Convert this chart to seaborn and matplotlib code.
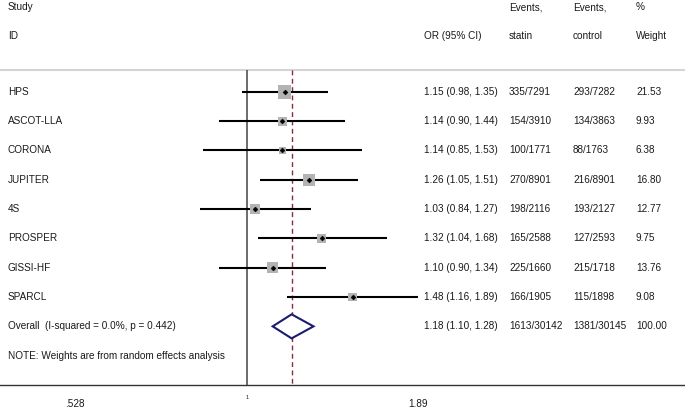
import matplotlib
matplotlib.use("Agg")
import matplotlib.pyplot as plt
import matplotlib.ticker as mticker
import seaborn as sns
import pandas as pd
import numpy as np

# data
studies = ["HPS", "ASCOT-LLA", "CORONA", "JUPITER", "4S", "PROSPER", "GISSI-HF", "SPARCL"]
odds = [1.15, 1.14, 1.14, 1.26, 1.03, 1.32, 1.10, 1.48]
ci_lo = [0.98, 0.90, 0.85, 1.05, 0.84, 1.04, 0.90, 1.16]
ci_hi = [1.35, 1.44, 1.53, 1.51, 1.27, 1.68, 1.34, 1.89]
ev_statin = ["335/7291", "154/3910", "100/1771", "270/8901", "198/2116", "165/2588", "225/1660", "166/1905"]
ev_control = ["293/7282", "134/3863", "88/1763", "216/8901", "193/2127", "127/2593", "215/1718", "115/1898"]
weights = [21.53, 9.93, 6.38, 16.80, 12.77, 9.75, 13.76, 9.08]

pooled = 1.18
pooled_lo = 1.10
pooled_hi = 1.28
pooled_statin = "1613/30142"
pooled_control = "1381/30145"
overall_label = "Overall  (I-squared = 0.0%, p = 0.442)"
note = "NOTE: Weights are from random effects analysis"
xtick_vals = [0.528, 1.89]
xtick_labels = [".528", "1.89"]

df = pd.DataFrame({"study": studies, "or": odds, "lo": ci_lo, "hi": ci_hi,
                   "weight": weights, "row": np.arange(len(studies))})

sns.set_style("white")
plt.rcParams['font.family'] = ['Liberation Sans', 'DejaVu Sans']
fs = 7.2

fig = plt.figure(figsize=(6.85, 4.09), dpi=100)
ax = fig.add_axes([0, 1 - 385 / 409, 1, 385 / 409])
ax.set_xscale("log")
ax.set_xlim(0.3996, 5.085)
ax.set_ylim(10, -3.13)

# header separator and reference lines
ax.axhline(-0.75, color="#d4d4d4", lw=1.5)
ax.vlines(1, -0.75, 10, color="#444444", lw=1.1)
ax.vlines(pooled, -0.75, 10, color="#8b2a3a", lw=1.0, linestyles=(0, (3.5, 2.5)))

# confidence intervals
ax.hlines(df["row"], df["lo"], df["hi"], color="black", lw=1.5, zorder=3)

# weight boxes, area proportional to weight
k = 4.4
sns.scatterplot(data=df, x="or", y="row", size="weight", sizes=(k * min(weights), k * max(weights)),
                size_norm=(min(weights), max(weights)), marker="s", color="#b3b3b3",
                edgecolor="none", legend=False, ax=ax, zorder=4)
# point estimates
sns.scatterplot(data=df, x="or", y="row", marker="D", s=6, color="black",
                edgecolor="black", linewidth=0.4, legend=False, ax=ax, zorder=5)

# pooled diamond
orow = len(studies)
ax.fill([pooled_lo, pooled, pooled_hi, pooled, pooled_lo],
        [orow, orow - 0.41, orow, orow + 0.41, orow],
        facecolor="white", edgecolor="#1c1c6e", lw=1.5, zorder=4)

# text columns
tr = ax.get_yaxis_transform()
col_or, col_st, col_ct, col_wt = 424 / 685, 509 / 685, 573 / 685, 636 / 685
left = 8 / 685
kw = dict(transform=tr, fontsize=fs, va="center", ha="left", color="#1a1a1a")
ax.text(left, -2.88, "Study", **kw)
ax.text(left, -1.9, "ID", **kw)
ax.text(col_or, -1.9, "OR (95% CI)", **kw)
ax.text(col_st, -2.88, "Events,", **kw)
ax.text(col_st, -1.9, "statin", **kw)
ax.text(col_ct, -2.88, "Events,", **kw)
ax.text(col_ct, -1.9, "control", **kw)
ax.text(col_wt, -2.88, "%", **kw)
ax.text(col_wt, -1.9, "Weight", **kw)

for i in range(len(studies)):
    ax.text(left, i, studies[i], **kw)
    ax.text(col_or, i, f"{odds[i]:.2f} ({ci_lo[i]:.2f}, {ci_hi[i]:.2f})", **kw)
    ax.text(col_st, i, ev_statin[i], **kw)
    ax.text(col_ct, i, ev_control[i], **kw)
    ax.text(col_wt, i, f"{weights[i]:.2f}", **kw)

ax.text(left, orow, overall_label, **kw)
ax.text(col_or, orow, f"{pooled:.2f} ({pooled_lo:.2f}, {pooled_hi:.2f})", **kw)
ax.text(col_st, orow, pooled_statin, **kw)
ax.text(col_ct, orow, pooled_control, **kw)
ax.text(col_wt, orow, f"{sum(weights):.2f}", **kw)
ax.text(left, orow + 1, note, **kw)

# axis
for s in ["top", "left", "right"]:
    ax.spines[s].set_visible(False)
ax.spines["bottom"].set_color("#333333")
ax.spines["bottom"].set_linewidth(1.0)
ax.set_yticks([])
ax.xaxis.set_major_locator(mticker.FixedLocator(xtick_vals))
ax.xaxis.set_major_formatter(mticker.FixedFormatter(xtick_labels))
ax.xaxis.set_minor_locator(mticker.FixedLocator([1]))
ax.xaxis.set_minor_formatter(mticker.FixedFormatter(["1"]))
ax.tick_params(axis="x", which="major", length=7.5, width=1.0, color="#333333",
               labelsize=fs, pad=2.5, labelcolor="#1a1a1a")
ax.tick_params(axis="x", which="minor", length=0, labelsize=4, pad=7, labelcolor="#1a1a1a")
ax.set_xlabel("")
ax.set_ylabel("")

fig.savefig("out.png", dpi=100)
